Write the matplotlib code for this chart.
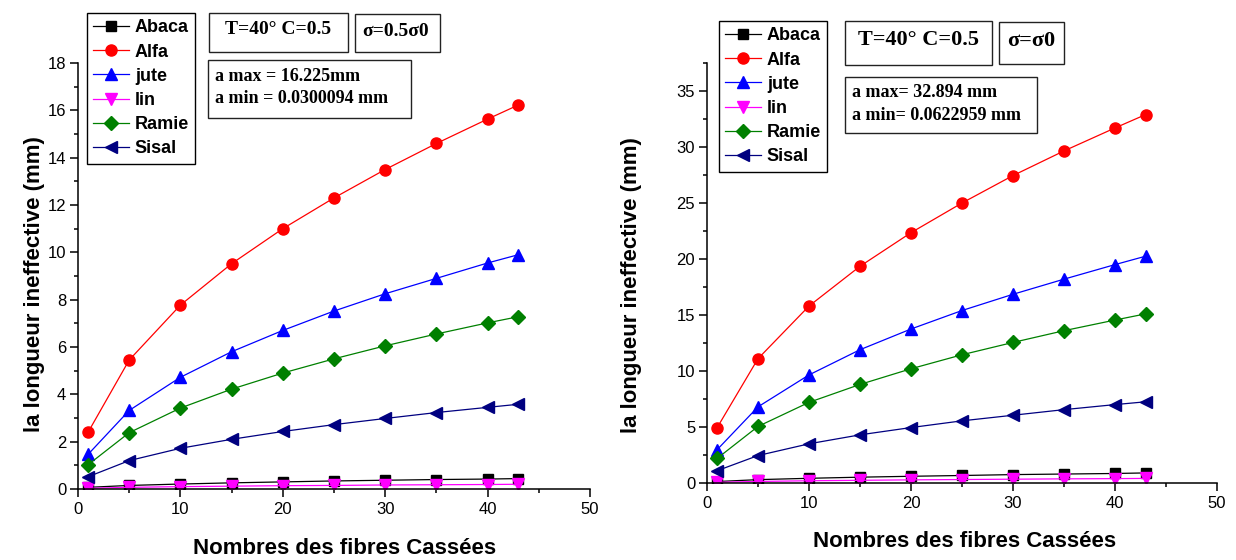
import matplotlib
matplotlib.use("Agg")
from matplotlib import pyplot as plt
from matplotlib.font_manager import FontProperties
from matplotlib.patches import Rectangle
from matplotlib.ticker import MultipleLocator

W, H = 1236, 560

fibres = ["Abaca", "Alfa", "jute", "lin", "Ramie", "Sisal"]
broken = [1, 5, 10, 15, 20, 25, 30, 35, 40, 43]

# sigma = 0.5 sigma0
half_sigma = {
    "Abaca": [0.07, 0.15, 0.21, 0.26, 0.30, 0.34, 0.37, 0.40, 0.42, 0.44],
    "Alfa": [2.41, 5.45, 7.77, 9.52, 11.0, 12.3, 13.5, 14.6, 15.63, 16.225],
    "jute": [1.47, 3.32, 4.72, 5.80, 6.70, 7.52, 8.25, 8.90, 9.55, 9.90],
    "lin": [0.03, 0.07, 0.10, 0.12, 0.14, 0.15, 0.17, 0.18, 0.19, 0.20],
    "Ramie": [1.03, 2.38, 3.42, 4.22, 4.90, 5.50, 6.05, 6.55, 7.02, 7.28],
    "Sisal": [0.52, 1.20, 1.72, 2.10, 2.43, 2.72, 2.98, 3.23, 3.45, 3.58],
}

# sigma = sigma0
full_sigma = {
    "Abaca": [0.13, 0.30, 0.42, 0.52, 0.60, 0.67, 0.75, 0.80, 0.85, 0.90],
    "Alfa": [4.95, 11.1, 15.8, 19.35, 22.35, 25.0, 27.45, 29.65, 31.7, 32.894],
    "jute": [2.98, 6.80, 9.65, 11.9, 13.75, 15.4, 16.85, 18.2, 19.5, 20.25],
    "lin": [0.062, 0.14, 0.20, 0.24, 0.28, 0.31, 0.34, 0.37, 0.39, 0.41],
    "Ramie": [2.20, 5.05, 7.20, 8.80, 10.2, 11.45, 12.55, 13.6, 14.55, 15.1],
    "Sisal": [1.10, 2.45, 3.50, 4.30, 4.95, 5.55, 6.05, 6.55, 7.00, 7.25],
}

styles = {
    "Abaca": ("black", "s", 7),
    "Alfa": ("red", "o", 8),
    "jute": ("blue", "^", 9),
    "lin": ("magenta", "v", 9),
    "Ramie": ("green", "D", 7),
    "Sisal": ("navy", "<", 9),
}

plt.rcParams["font.family"] = ["Liberation Sans", "DejaVu Sans"]


def fig_box(fig, x0, y0, x1, y1):
    # pixel box measured from the top-left corner
    fig.add_artist(Rectangle((x0 / W, 1 - y1 / H), (x1 - x0) / W, (y1 - y0) / H,
                             transform=fig.transFigure, fill=False,
                             edgecolor="#222222", linewidth=1.0))


def fig_text(fig, x, y, s, size, ha="left"):
    fig.text(x / W, 1 - y / H, s, ha=ha, va="baseline", fontsize=size,
             fontweight="bold", family=["Liberation Serif", "DejaVu Serif"])


def draw_panel(ax, series, ymax, ystep, yminor):
    for name in fibres:
        color, marker, ms = styles[name]
        ax.plot(broken, series[name], color=color, marker=marker,
                markersize=ms, linewidth=0.9, label=name)
    ax.set_xlim(0, 50)
    ax.set_ylim(0, ymax)
    ax.xaxis.set_major_locator(MultipleLocator(10))
    ax.xaxis.set_minor_locator(MultipleLocator(5))
    ax.yaxis.set_major_locator(MultipleLocator(ystep))
    ax.yaxis.set_minor_locator(MultipleLocator(yminor))
    for side in ["top", "right"]:
        ax.spines[side].set_visible(False)
    for side in ["left", "bottom"]:
        ax.spines[side].set_linewidth(1.1)
    ax.tick_params(which="major", direction="out", length=5.5, width=1.1,
                   labelsize=12, pad=3)
    ax.tick_params(which="minor", direction="out", length=3, width=1.1)
    ax.tick_params(axis="x", which="major", pad=4)
    ax.set_xlabel("Nombres des fibres Cassées", fontsize=16, fontweight="bold")
    ax.set_ylabel("la longueur ineffective (mm)", fontsize=16, fontweight="bold")


fig = plt.figure(figsize=(W / 100, H / 100), dpi=100)
ax1 = fig.add_axes([78 / W, 1 - 489 / H, 512 / W, 426 / H])
ax2 = fig.add_axes([707 / W, 1 - 483 / H, 510 / W, 420 / H])

draw_panel(ax1, half_sigma, 18, 2, 1)
draw_panel(ax2, full_sigma, 37.5, 5, 2.5)

ax1.xaxis.set_label_coords(0.52, -0.115)
ax1.yaxis.set_label_coords(-0.064, 0.48)
ax2.xaxis.set_label_coords(0.505, -0.115)
ax2.yaxis.set_label_coords(-0.128, 0.472)

legend_font = FontProperties(family="Liberation Sans", weight="bold", size=13)
legend_kw = dict(loc="upper left", frameon=True, fancybox=False,
                 edgecolor="black", framealpha=1, borderaxespad=0,
                 labelspacing=0.4, borderpad=0.35, handlelength=2.0,
                 handletextpad=0.3, prop=legend_font)
lg1 = ax1.legend(bbox_to_anchor=(87 / W, 1 - 13 / H),
                 bbox_transform=fig.transFigure, **legend_kw)
lg2 = ax2.legend(bbox_to_anchor=(719 / W, 1 - 21 / H),
                 bbox_transform=fig.transFigure, **legend_kw)
for lg in (lg1, lg2):
    lg.get_frame().set_linewidth(1.0)

# left panel annotations
fig_box(fig, 209, 13, 348, 52)
fig_text(fig, 278.5, 34, "T=40° C=0.5", 14, ha="center")
fig_box(fig, 355, 14, 440, 52)
fig_text(fig, 395.5, 36.5, "σ=0.5σ0", 14, ha="center")
fig_box(fig, 208, 60, 411, 118)
fig_text(fig, 215, 81, "a max = 16.225mm", 13)
fig_text(fig, 215, 103, "a min = 0.0300094 mm", 13)

# right panel annotations
fig_box(fig, 845, 21, 992, 65)
fig_text(fig, 918.5, 45, "T=40° C=0.5", 16, ha="center")
fig_box(fig, 999, 22, 1064, 64)
fig_text(fig, 1031, 46.5, "σ=σ0", 16, ha="center")
fig_box(fig, 845, 77, 1037, 133)
fig_text(fig, 852, 97, "a max= 32.894 mm", 13)
fig_text(fig, 852, 119.5, "a min= 0.0622959 mm", 13)

fig.savefig("out.png", dpi=100)
plt.close(fig)
